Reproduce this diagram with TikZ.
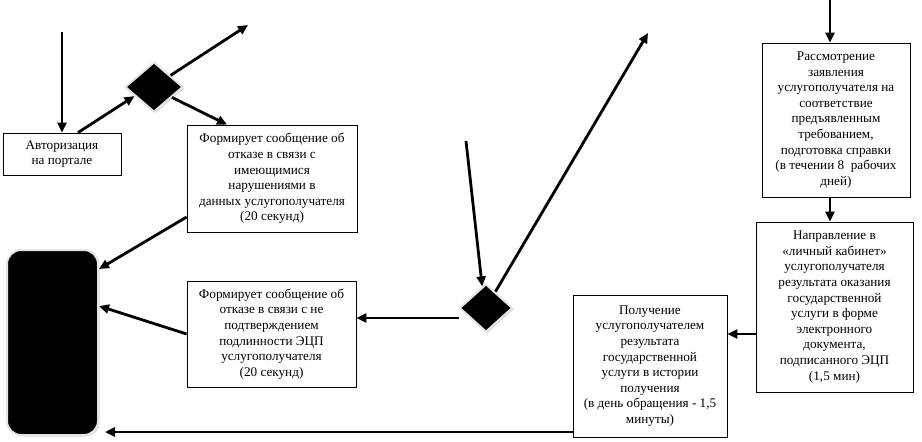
\documentclass[tikz,border=0pt]{standalone}
\usepackage{fontspec}
\setmainfont{Liberation Serif}
\usetikzlibrary{arrows.meta,shapes.geometric,shadows}

\begin{document}
\begin{tikzpicture}[x=1pt,y=-1pt]
        \tikzstyle{every node} = [font=\fontsize{13.2}{15.6}\selectfont]
        \tikzstyle{stepbox} = [rectangle, draw, line width=0.8pt, align=center, inner sep=1pt]
        \tikzstyle{choice} = [diamond, fill=black, draw=gray!20, line width=2pt, inner sep=0pt,
            minimum width=58pt, minimum height=50pt,
            drop shadow={shadow xshift=1.5pt, shadow yshift=-1.5pt, fill=gray!55}]
        \tikzstyle{finish} = [rectangle, rounded corners=14pt, fill=black, draw=gray!20, line width=2pt,
            minimum width=91pt, minimum height=185pt,
            drop shadow={shadow xshift=1.5pt, shadow yshift=-1.5pt, fill=gray!55}]
        \tikzstyle{flow} = [line width=2.8pt, -{Triangle[length=10pt,width=9pt]}]
        \useasboundingbox (0,0) rectangle (922,442);
        \node[stepbox, minimum width=118pt, minimum height=42pt] (auth) at (62,154) {Авторизация\\на портале};
        \node[choice] (check1) at (154,87) {};
        \node[stepbox, minimum width=170pt, minimum height=107pt] (refuse1) at (272,178.5)
            {Формирует сообщение об\\отказе в связи с\\имеющимися\\нарушениями в\\данных услугополучателя\\(20 секунд)};
        \node[stepbox, minimum width=169pt, minimum height=106pt] (refuse2) at (271.5,334)
            {Формирует сообщение об\\отказе в связи с не\\подтверждением\\подлинности ЭЦП\\услугополучателя\\(20 секунд)};
        \node[finish] (stop) at (52.5,342.5) {};
        \node[choice, minimum width=53pt, minimum height=48pt] (check2) at (486,308) {};
        \node[stepbox, minimum width=148pt, minimum height=154pt] (review) at (836,120)
            {Рассмотрение\\заявления\\услугополучателя на\\соответствие\\предъявленным\\требованием,\\подготовка справки\\(в течении 8~~рабочих\\дней)};
        \node[stepbox, minimum width=157pt, minimum height=170pt] (send) at (834.5,307)
            {Направление в\\«личный кабинет»\\услугополучателя\\результата оказания\\государственной\\услуги в форме\\электронного\\документа,\\подписанного ЭЦП\\(1,5 мин)};
        \node[stepbox, minimum width=154pt, minimum height=142pt] (get) at (650,366)
            {Получение\\услугополучателем\\результата\\государственной\\услуги в истории\\получения\\(в день обращения - 1,5\\минуты)};
        \coordinate (in1) at (62,32);
        \coordinate (out1) at (248,25);
        \coordinate (in2) at (466,141);
        \coordinate (out2) at (648,33);
        \coordinate (in3) at (830,0);
        \foreach \from/\to in {in1/auth, check1.35/out1, in2/check2.100, check2.60/out2}
            \draw[flow] (\from) -- (\to);
        \draw[flow] ([xshift=16pt]auth.north) -- (check1.205);
        \draw[flow] (check1.-30) -- ([xshift=-45pt]refuse1.north);
        \draw[flow] ([yshift=-38.5pt]refuse1.west) -- ([yshift=-20pt]stop.north east);
        \draw[flow] (refuse2.west) -- ([yshift=-57pt]stop.north east);
        \draw[flow] ([yshift=-10pt]check2.west) -- ([yshift=-10pt]check2.west -| refuse2.east);
        \draw[flow] (in3) -- (in3 |- review.north);
        \draw[flow] ([xshift=-6pt]review.south) -- ([xshift=-6pt]review.south |- send.north);
        \draw[flow] ([yshift=-27pt]send.west) -- ([yshift=-27pt]send.west -| get.east);
        \draw[flow, shorten >=6pt] ([yshift=-66pt]get.west) -- ([yshift=-66pt]get.west -| stop.east);
    \end{tikzpicture}
\end{document}
